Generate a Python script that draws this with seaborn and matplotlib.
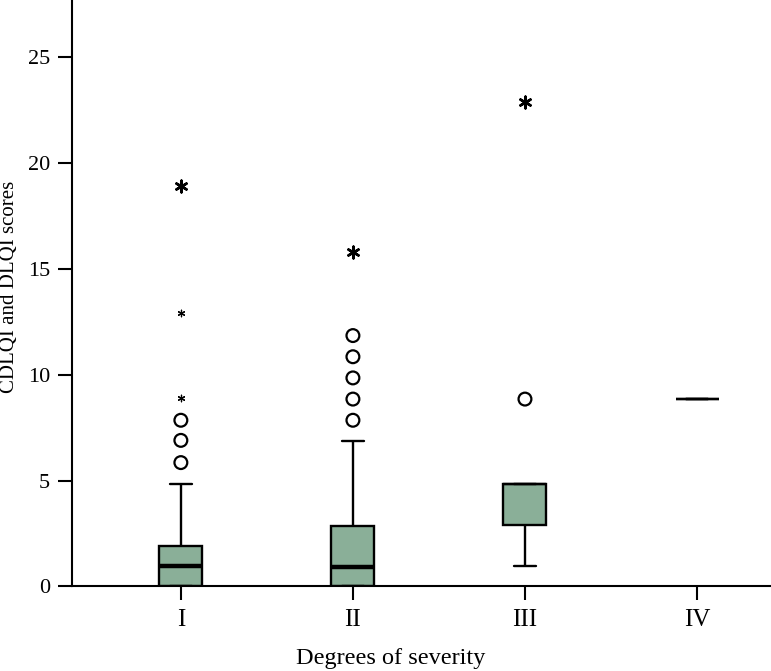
import pandas as pd
import matplotlib.pyplot as plt
import seaborn as sns

# --- Data (five-number summaries + outliers) ---
SEVERITY = ["I", "II", "III", "IV"]

# [lower whisker, Q1, median, Q3, upper whisker]
SUMMARY_I = [0.0, 0.0, 0.95, 1.9, 4.85]
SUMMARY_II = [0.0, 0.0, 0.9, 2.85, 6.85]
SUMMARY_III = [0.95, 2.9, 4.85, 4.85, 4.85]
SUMMARY_IV = [8.85, 8.85, 8.85, 8.85, 8.85]

# outliers (circles)
OUT_SEVERITY = ["I", "I", "I", "II", "II", "II", "II", "II", "III"]
OUT_VALUES = [5.85, 6.9, 7.85, 7.85, 8.85, 9.85, 10.85, 11.85, 8.85]

# extreme values (asterisks), big and small glyphs
EXT_BIG_SEVERITY = ["I", "II", "III"]
EXT_BIG_VALUES = [18.9, 15.8, 22.9]
EXT_SMALL_SEVERITY = ["I", "I"]
EXT_SMALL_VALUES = [8.9, 12.9]

BOX_COLOR = "#8aaf98"
MEDIAN_LW = 3.2
EDGE_LW = 1.7

sns.set_theme(style="ticks")
plt.rcParams["font.family"] = ["Liberation Serif", "DejaVu Serif"]

summaries = [SUMMARY_I, SUMMARY_II, SUMMARY_III, SUMMARY_IV]
box_df = pd.DataFrame({
    "severity": [s for s, vals in zip(SEVERITY, summaries) for _ in vals],
    "score": [v for vals in summaries for v in vals],
})

fig = plt.figure(figsize=(7.71, 6.71), dpi=100)
ax = fig.add_axes([0.094, 0.126, 0.906, 0.874])

# five values per group + whis=(0, 100) -> box/whiskers equal the summary
sns.boxplot(
    data=box_df, x="severity", y="score", order=SEVERITY,
    whis=(0, 100), width=0.25, color=BOX_COLOR, saturation=1,
    linecolor="black", linewidth=EDGE_LW, showfliers=False,
    medianprops={"linewidth": MEDIAN_LW, "color": "black"},
    ax=ax,
)

# where the median sits on Q3 (III, IV) the reference shows no thick bar
flat_medians = {vals[2] for vals in summaries if vals[2] == vals[3]}
for line in ax.lines:
    ys = list(line.get_ydata())
    if line.get_linewidth() == MEDIAN_LW and len(ys) == 2 and ys[0] in flat_medians:
        line.set_linewidth(EDGE_LW)

pos = {s: i for i, s in enumerate(SEVERITY)}
sns.scatterplot(
    x=[pos[s] for s in OUT_SEVERITY], y=OUT_VALUES,
    marker="o", s=85, facecolor="none", edgecolor="black", linewidth=1.6,
    ax=ax,
)
sns.scatterplot(
    x=[pos[s] for s in EXT_BIG_SEVERITY], y=EXT_BIG_VALUES,
    marker=(6, 2, 0), s=70, color="black", linewidth=1.8, ax=ax,
)
sns.scatterplot(
    x=[pos[s] for s in EXT_SMALL_SEVERITY], y=EXT_SMALL_VALUES,
    marker=(6, 2, 0), s=22, color="black", linewidth=0.9, ax=ax,
)

ax.set_xlim(-0.63, 3.43)
ax.set_ylim(0, 27.7)
ax.set_yticks([0, 5, 10, 15, 20, 25])

for side in ["top", "right"]:
    ax.spines[side].set_visible(False)
for side in ["left", "bottom"]:
    ax.spines[side].set_linewidth(1.5)
    ax.spines[side].set_color("black")

ax.tick_params(axis="both", direction="out", length=10, width=1.5,
               color="black", labelcolor="black")
ax.tick_params(axis="y", labelsize=16, pad=6)
ax.tick_params(axis="x", labelsize=18, pad=6)

ax.set_xlabel("Degrees of severity", fontsize=17.5, color="black")
ax.set_ylabel("CDLQI and DLQI scores", fontsize=15, color="black")
ax.xaxis.set_label_coords(0.456, -0.105)
ax.yaxis.set_label_coords(-0.077, 0.51)

fig.savefig("out.png", dpi=100)
